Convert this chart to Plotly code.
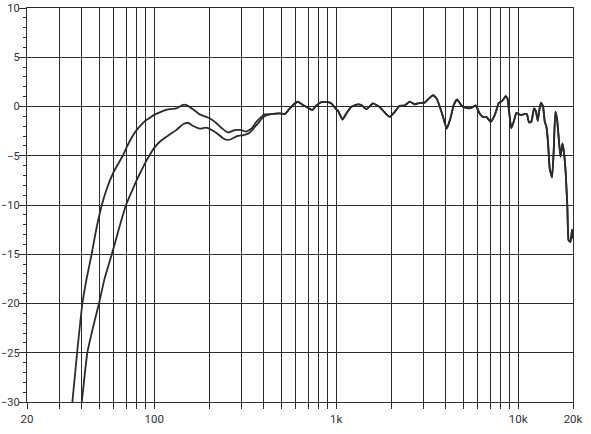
import plotly.graph_objs as go

# low-frequency part of the upper curve (Hz, dB)
freq_a_lo = [35.5, 37.7, 40.3, 42.6, 45.3, 48.0, 51.2, 55.0, 60.0, 67.4, 70.3, 75.0,
             80.0, 85.0, 90.0, 94.4, 100.0, 107.2, 114.0, 121.6, 132.4, 143.9, 150.2,
             163.4, 177.8, 189.4, 201.8, 219.6, 238.8, 254.3, 276.8, 301.4, 320.8,
             341.8, 364.2, 388.0, 404.6]
db_a_lo = [-30.0, -25.0, -20.0, -17.4, -15.0, -12.5, -10.2, -8.3, -6.6, -4.95, -4.2, -3.2,
           -2.4, -1.85, -1.4, -1.15, -0.85, -0.6, -0.4, -0.27, -0.2, 0.17, 0.14,
           -0.27, -0.8, -1.0, -1.2, -1.7, -2.3, -2.65, -2.4, -2.4, -2.55,
           -2.25, -1.55, -1.05, -0.8]

# low-frequency part of the lower curve (Hz, dB)
freq_b_lo = [40.0, 42.9, 46.0, 49.7, 53.5, 58.5, 64.0, 70.0, 75.0, 80.0, 85.0, 90.0,
             95.0, 100.0, 107.0, 121.6, 132.0, 144.0, 153.0, 163.0, 178.0, 193.0,
             205.0, 220.0, 245.0, 262.0, 285.0, 310.0, 330.0, 349.0, 372.0, 396.0, 420.0]
db_b_lo = [-30.0, -25.0, -22.5, -20.0, -17.4, -15.0, -12.4, -10.0, -8.7, -7.5, -6.5, -5.6,
           -4.85, -4.2, -3.6, -2.85, -2.4, -1.8, -1.65, -1.95, -2.25, -2.15,
           -2.35, -2.7, -3.35, -3.35, -3.0, -2.9, -2.75, -2.3, -1.7, -1.1, -0.85]

# shared part (both curves coincide above ~440 Hz)
freq_hi = [440.4, 489, 521, 550, 591.6, 616.8, 656.8, 699.6, 739.6, 778, 829, 901.6,
           941.6, 1002, 1023, 1082, 1138, 1211, 1317, 1375, 1465, 1593, 1733, 1846,
           1968, 2096, 2232, 2378, 2534, 2698, 2874, 3062, 3236, 3412, 3566, 3706,
           3864, 4046, 4228, 4426, 4614, 4876, 5188, 5534, 5834, 6138, 6398, 6684,
           7064, 7430, 7586, 7816, 8148, 8356, 8532, 8730, 8892, 9162, 9442, 9774,
           10070, 10400, 10866, 11170, 11456, 11804, 12218, 12532, 12794, 13062,
           13336, 13678, 13996, 14290, 14590, 14894, 15348, 15668, 15996, 16332,
           16674, 17062, 17500, 17866, 18240, 18622, 18924, 19366, 19770, 20000]
db_hi = [-0.77, -0.7, -0.77, -0.3, 0.3, 0.48, 0.15, -0.13, -0.35, 0.1, 0.45, 0.45,
         0.3, -0.3, -0.44, -1.33, -0.7, -0.03, 0.21, 0.14, -0.27, 0.31, -0.05, -0.6,
         -1.05, -0.54, 0.07, 0.1, 0.5, 0.22, 0.35, 0.4, 0.82, 1.16, 0.8, 0.0,
         -1.05, -2.25, -1.3, 0.17, 0.73, 0.1, -0.15, -0.14, 0.12, -0.7, -1.05, -1.05,
         -1.55, -0.87, -0.37, 0.35, 0.55, 0.82, 1.06, 0.82, -0.37, -2.2, -1.55, -0.64,
         -0.77, -0.87, -0.75, -0.77, -1.62, -1.55, -0.2, -0.54, -1.45, -0.37,
         0.38, 0.04, -1.55, -2.06, -3.75, -6.3, -7.2, -4.47, -0.54, -1.2,
         -3.08, -5.1, -3.75, -4.77, -6.8, -10.2, -13.6, -13.75, -12.5, -13.4]

tick_vals = [20, 100, 1000, 10000, 20000]
tick_text = ["20", "100", "1k", "10k", "20k"]
grid_vals = [30, 40, 50, 60, 70, 80, 90, 200, 300, 400, 500, 600, 700, 800, 900,
             2000, 3000, 4000, 5000, 6000, 7000, 8000, 9000]

ink = "#2b2b2b"

fig = go.Figure()
for fx, dy in [(freq_a_lo + freq_hi, db_a_lo + db_hi), (freq_b_lo + freq_hi, db_b_lo + db_hi)]:
    fig.add_trace(go.Scatter(
        x=fx, y=dy, mode="lines",
        line=dict(color=ink, width=1.8, shape="spline", smoothing=0.4),
        showlegend=False, hoverinfo="skip"
    ))

fig.update_layout(
    width=591, height=434,
    margin=dict(l=27, r=18, t=8, b=32),
    paper_bgcolor="white", plot_bgcolor="white",
    font=dict(family="Roboto", size=12, color="#333333"),
    showlegend=False,
)
fig.update_xaxes(
    type="log", range=[1.30103, 4.30103], automargin=False,
    tickvals=tick_vals, ticktext=tick_text, tickfont=dict(size=11.5),
    showgrid=True, gridcolor=ink, gridwidth=1.2,
    ticks="outside", ticklen=6, tickcolor=ink, tickwidth=1.2,
    showline=True, linecolor=ink, linewidth=1.2, mirror=True,
    minor=dict(tickvals=grid_vals, showgrid=True, gridcolor=ink, gridwidth=1.2,
               ticks="outside", ticklen=6, tickcolor=ink, tickwidth=1.2),
    zeroline=False,
)
fig.update_yaxes(
    range=[-30, 10], dtick=5, tick0=0, automargin=False,
    tickfont=dict(size=11), ticklabelstandoff=-3,
    showgrid=True, gridcolor=ink, gridwidth=1.2,
    ticks="outside", ticklen=7, tickcolor=ink, tickwidth=1.2,
    showline=True, linecolor=ink, linewidth=1.2, mirror=True,
    minor=dict(dtick=1, ticks="outside", ticklen=3, tickcolor=ink, tickwidth=1, showgrid=False),
    zeroline=False,
)

fig.write_html("out.html", config={"displayModeBar": False},
               post_script="document.body.style.margin='0px';")
